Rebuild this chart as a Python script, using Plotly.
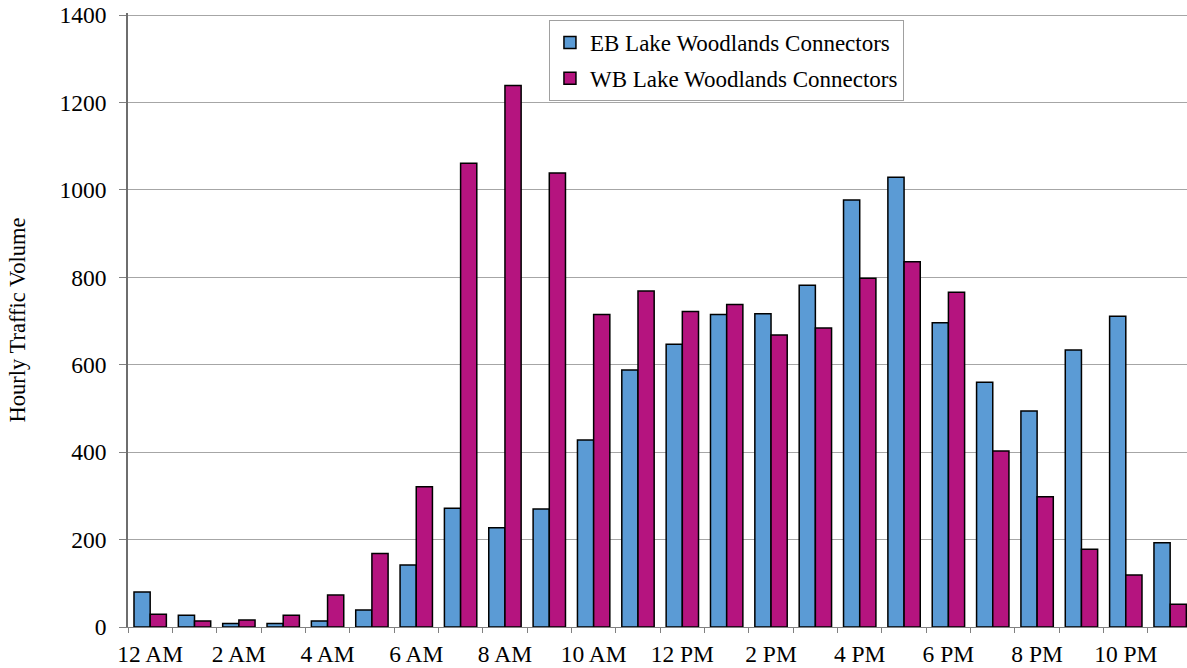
import plotly.graph_objects as go

hours = list(range(24))
tick_positions = [0, 2, 4, 6, 8, 10, 12, 14, 16, 18, 20, 22]
tick_labels = ["12 AM", "2 AM", "4 AM", "6 AM", "8 AM", "10 AM",
               "12 PM", "2 PM", "4 PM", "6 PM", "8 PM", "10 PM"]

eb_name = "EB Lake Woodlands Connectors"
wb_name = "WB Lake Woodlands Connectors"

eb_values = [80, 27, 8, 8, 14, 39, 142, 272, 227, 270, 428, 588,
             647, 715, 717, 782, 977, 1029, 696, 560, 494, 634, 711, 193]
wb_values = [29, 14, 16, 27, 73, 168, 321, 1061, 1239, 1039, 715, 769,
             722, 738, 668, 684, 798, 836, 766, 403, 298, 178, 119, 52]

y_ticks = [0, 200, 400, 600, 800, 1000, 1200, 1400]

FONT = "Liberation Serif, Times New Roman, serif"

fig = go.Figure()
fig.add_trace(go.Bar(
    x=hours, y=eb_values, name=eb_name, legendgroup="eb",
    marker=dict(color="#5B9BD5", line=dict(color="#000000", width=1.5)),
))
fig.add_trace(go.Bar(
    x=hours, y=wb_values, name=wb_name, legendgroup="wb",
    marker=dict(color="#B5147F", line=dict(color="#000000", width=1.5)),
))

fig.update_layout(
    width=1187, height=668,
    margin=dict(l=128, r=0, t=13, b=41, autoexpand=False),
    paper_bgcolor="white", plot_bgcolor="white",
    font=dict(family=FONT, size=23, color="#000000"),
    barmode="group", bargap=0.27, bargroupgap=0.0,
    showlegend=True,
    legend=dict(
        x=0.3975, y=0.9886, xanchor="left", yanchor="top",
        bgcolor="white", bordercolor="#A0A0A0", borderwidth=1,
        font=dict(family=FONT, size=23, color="#000000"),
        traceorder="grouped", tracegroupgap=3,
    ),
    xaxis=dict(
        range=[-0.5, 23.38],
        tickmode="array", tickvals=tick_positions, ticktext=tick_labels,
        ticks="", showgrid=False, zeroline=False,
        ticklabelstandoff=6,
        showline=True, linecolor="#808080", linewidth=1.3,
        tickfont=dict(family=FONT, size=23.5, color="#000000"),
        minor=dict(tickmode="array", tickvals=[h - 0.5 for h in hours] + [23.5],
                   ticks="outside", ticklen=5, tickcolor="#808080", tickwidth=1,
                   showgrid=False),
        fixedrange=True,
    ),
    yaxis=dict(
        range=[0, 1405], tickmode="array", tickvals=y_ticks,
        ticks="outside", ticklen=7, tickcolor="#808080", tickwidth=1,
        ticklabelstandoff=8,
        showgrid=True, gridcolor="#A6A6A6", gridwidth=1,
        zeroline=False, showline=True, linecolor="#6E6E6E", linewidth=1.5,
        tickfont=dict(family=FONT, size=23.5, color="#000000"),
        title=dict(text="Hourly Traffic Volume",
                   font=dict(family=FONT, size=22.5, color="#000000"),
                   standoff=28),
        automargin=False,
        fixedrange=True,
    ),
)

fig.write_html("out.html", config={"displayModeBar": False},
               post_script="document.body.style.margin='0';")
